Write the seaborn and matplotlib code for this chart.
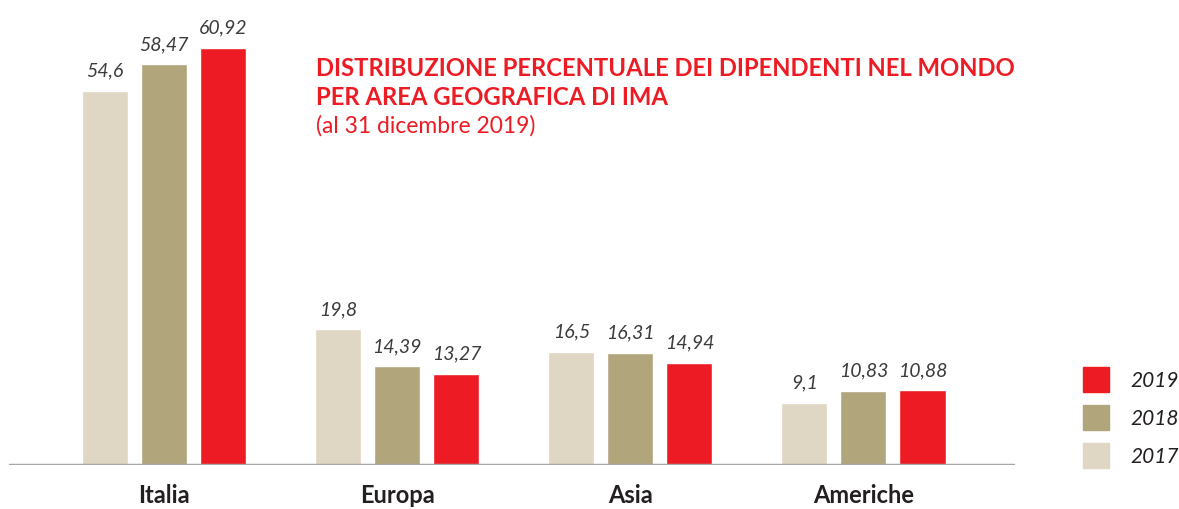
import matplotlib
matplotlib.use("Agg")
import matplotlib.pyplot as plt
from matplotlib.patches import Rectangle
import pandas as pd
import seaborn as sns

# Data
areas = ["Italia", "Europa", "Asia", "Americhe"]
years = ["2017", "2018", "2019"]
v2017 = [54.6, 19.8, 16.5, 9.1]
v2018 = [58.47, 14.39, 16.31, 10.83]
v2019 = [60.92, 13.27, 14.94, 10.88]
colors = {"2017": "#DFD6C3", "2018": "#B1A57C", "2019": "#ED1C24"}

df = pd.DataFrame({
    "area": areas * 3,
    "anno": ["2017"] * 4 + ["2018"] * 4 + ["2019"] * 4,
    "valore": v2017 + v2018 + v2019,
})

sns.set_style("white")
plt.rcParams["font.family"] = ["Lato", "DejaVu Sans"]

W, H = 1179, 510
fig = plt.figure(figsize=(W / 100, H / 100), dpi=100)
ax = fig.add_axes([9 / W, (H - 466) / H, (1015 - 9) / W, 466 / H])

sns.barplot(data=df, x="area", y="valore", hue="anno", hue_order=years,
            order=areas, palette=colors, saturation=1, width=0.76, gap=0.22,
            legend=False, ax=ax)

for cont in ax.containers:
    labs = [f"{b.get_height():g}".replace(".", ",") for b in cont]
    ax.bar_label(cont, labels=labs, padding=9, fontsize=14, style="italic",
                 color="#3c3c3c")

ax.set_xlim(-0.665, 3.65)
ax.set_ylim(0, 466 / 6.85)
ax.axhline(0, color="#a7a7a9", lw=2.5, zorder=5)
for s in ax.spines.values():
    s.set_visible(False)
ax.set_yticks([])
ax.set_xlabel("")
ax.set_ylabel("")
ax.tick_params(axis="x", length=0, pad=13)
for t in ax.get_xticklabels():
    t.set_fontsize(17)
    t.set_fontweight("bold")
    t.set_color("#231f20")

# title
red = "#ED1C24"
fig.text(316 / W, 1 - 57 / H, "DISTRIBUZIONE PERCENTUALE DEI DIPENDENTI NEL MONDO",
         color=red, fontsize=17.2, fontweight="bold", va="top", ha="left")
fig.text(316 / W, 1 - 86 / H, "PER AREA GEOGRAFICA DI IMA",
         color=red, fontsize=17.2, fontweight="bold", va="top", ha="left")
fig.text(316 / W, 1 - 115 / H, "(al 31 dicembre 2019)",
         color=red, fontsize=16.5, va="top", ha="left")

# legend
for i, yr in enumerate(["2019", "2018", "2017"]):
    top = 368 + i * 38
    fig.patches.append(Rectangle((1083 / W, 1 - (top + 25) / H), 26 / W, 25 / H,
                                 transform=fig.transFigure, color=colors[yr]))
    fig.text(1130 / W, 1 - (top + 13) / H, yr, fontsize=15, style="italic",
             color="#231f20", va="center", ha="left")

fig.savefig("out.png", dpi=100)
